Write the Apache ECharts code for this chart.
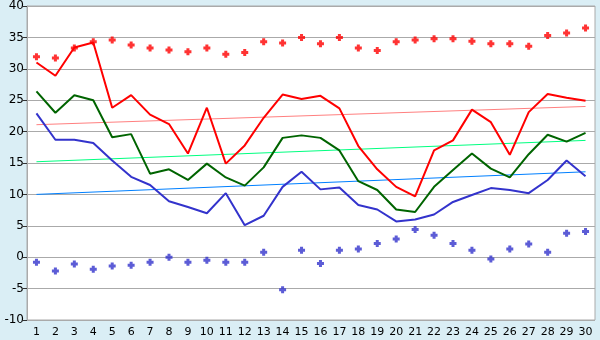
<!DOCTYPE html>
<html>
<head>
<meta charset="utf-8">
<script src="https://cdn.jsdelivr.net/npm/echarts@6/dist/echarts.min.js"></script>
<style>
  html, body { margin: 0; padding: 0; background: #daeef5; }
  #chart { width: 600px; height: 340px; }
</style>
</head>
<body>
<div id="chart"></div>
<script>
const days = ['1','2','3','4','5','6','7','8','9','10','11','12','13','14','15','16','17','18','19','20','21','22','23','24','25','26','27','28','29','30'];

const redLine = [31.0, 28.9, 33.4, 34.2, 23.8, 25.8, 22.7, 21.2, 16.5, 23.8, 14.9, 17.8, 22.2, 25.9, 25.2, 25.7, 23.7, 17.7, 14.0, 11.2, 9.7, 17.0, 18.6, 23.5, 21.5, 16.3, 23.1, 26.0, 25.4, 24.9];
const greenLine = [26.4, 23.0, 25.8, 25.0, 19.1, 19.6, 13.3, 14.0, 12.3, 14.9, 12.7, 11.4, 14.3, 19.0, 19.4, 19.0, 17.0, 12.1, 10.7, 7.6, 7.2, 11.2, 13.9, 16.5, 14.1, 12.7, 16.4, 19.5, 18.4, 19.8];
const blueLine = [22.9, 18.7, 18.7, 18.2, 15.4, 12.8, 11.5, 8.9, 8.0, 7.0, 10.2, 5.1, 6.6, 11.2, 13.6, 10.8, 11.1, 8.3, 7.6, 5.7, 6.0, 6.8, 8.8, 9.9, 11.0, 10.7, 10.2, 12.3, 15.4, 12.9];
const redDots = [31.9, 31.7, 33.3, 34.3, 34.6, 33.8, 33.3, 33.0, 32.7, 33.3, 32.3, 32.6, 34.3, 34.1, 35.0, 34.0, 35.0, 33.3, 32.9, 34.3, 34.6, 34.8, 34.8, 34.4, 34.0, 34.0, 33.6, 35.3, 35.7, 36.5];
const blueDots = [-0.8, -2.2, -1.1, -1.9, -1.4, -1.3, -0.8, 0.0, -0.8, -0.5, -0.8, -0.8, 0.8, -5.2, 1.1, -1.0, 1.1, 1.3, 2.2, 2.9, 4.4, 3.5, 2.2, 1.1, -0.3, 1.3, 2.1, 0.8, 3.8, 4.1];

// trend lines: value at first and last day
const redTrend = [21.1, 24.0];
const greenTrend = [15.2, 18.6];
const blueTrend = [10.0, 13.6];

const plus = 'path://M2,0L5,0L5,2L7,2L7,5L5,5L5,7L2,7L2,5L0,5L0,2L2,2Z';

function trend(ends, color) {
    return {
        type: 'line',
        data: [[0, ends[0]], [days.length - 1, ends[1]]],
        symbol: 'none',
        lineStyle: { color: color, width: 1 },
        z: 1
    };
}

function line(values, color) {
    return {
        type: 'line',
        data: values,
        symbol: 'none',
        lineStyle: { color: color, width: 2 },
        z: 3
    };
}

function dots(values, color) {
    return {
        type: 'scatter',
        data: values,
        symbol: plus,
        symbolSize: 7,
        itemStyle: { color: color },
        z: 4
    };
}

const chart = echarts.init(document.getElementById('chart'));
chart.setOption({
    backgroundColor: '#daeef5',
    animation: false,
    textStyle: { fontFamily: 'DejaVu Sans' },
    grid: {
        left: 27, right: 5, top: 5, bottom: 20,
        show: true, backgroundColor: '#ffffff', borderColor: '#aaaaaa', borderWidth: 1
    },
    xAxis: {
        type: 'category',
        data: days,
        boundaryGap: true,
        axisLine: { lineStyle: { color: '#aaaaaa' } },
        axisTick: { alignWithLabel: true, length: 5, lineStyle: { color: '#333333' } },
        axisLabel: { color: '#000', fontSize: 11, margin: 7, interval: 0 },
        splitLine: { show: false }
    },
    yAxis: {
        type: 'value',
        min: -10, max: 40, interval: 5,
        axisLine: { show: true, lineStyle: { color: '#aaaaaa' } },
        axisTick: { show: true, length: 4, lineStyle: { color: '#333333' } },
        axisLabel: { color: '#000', fontSize: 12, margin: 3 },
        splitLine: { lineStyle: { color: '#aaaaaa' } }
    },
    series: [
        trend(redTrend, '#ff8080'),
        trend(greenTrend, '#00ff80'),
        trend(blueTrend, '#0080ff'),
        line(redLine, '#ff0000'),
        line(greenLine, '#006400'),
        line(blueLine, '#3333cc'),
        dots(redDots, '#ff0000'),
        dots(blueDots, '#3333cc')
    ]
});
</script>
</body>
</html>
